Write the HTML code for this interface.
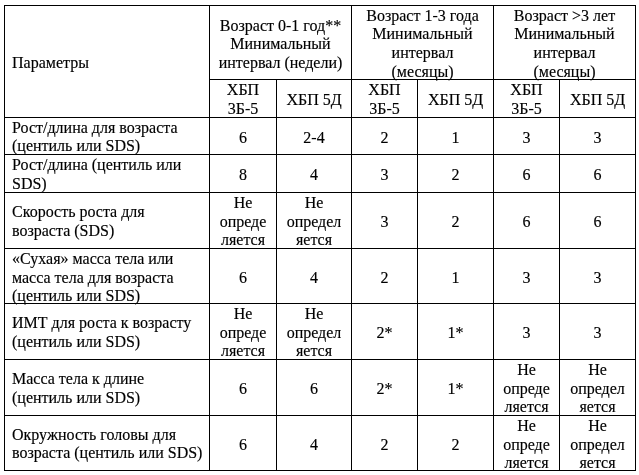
<!DOCTYPE html>
<html lang="ru"><head><meta charset="utf-8"><title>Таблица</title>
<style>
html,body{margin:0;padding:0;background:#fff;}
body{width:639px;height:475px;position:relative;overflow:hidden;font-family:"Liberation Serif","Times New Roman",serif;font-size:16px;color:#000;}
.c{position:absolute;box-sizing:border-box;border:1px solid #000;display:flex;align-items:center;justify-content:center;text-align:center;padding:0 7px;white-space:nowrap;line-height:18.4px;-webkit-text-stroke:0.15px #000;}
.c.l{justify-content:flex-start;text-align:left;}
.c span{position:relative;}
.c i{font-style:normal;position:relative;top:1px;}
</style></head><body>
<div class="c l" style="left:4px;top:5px;width:206px;height:113px;"><span style="top:2px">Параметры</span></div>
<div class="c " style="left:209px;top:5px;width:143px;height:75px;"><span style="top:2px">Возраст 0-1 год**<br>Минимальный<br>интервал (недели)</span></div>
<div class="c " style="left:351px;top:5px;width:143px;height:75px;"><span style="top:1px">Возраст 1-3 года<br>Минимальный<br>интервал<br><i>(месяцы)</i></span></div>
<div class="c " style="left:493px;top:5px;width:143px;height:75px;"><span style="top:1px">Возраст &gt;3 лет<br>Минимальный<br>интервал<br><i>(месяцы)</i></span></div>
<div class="c " style="left:209px;top:79px;width:68px;height:39px;"><span style="top:1px">ХБП<br>3Б-5</span></div>
<div class="c " style="left:276px;top:79px;width:76px;height:39px;"><span style="top:2px">ХБП 5Д</span></div>
<div class="c " style="left:351px;top:79px;width:67px;height:39px;"><span style="top:1px">ХБП<br>3Б-5</span></div>
<div class="c " style="left:417px;top:79px;width:77px;height:39px;"><span style="top:2px">ХБП 5Д</span></div>
<div class="c " style="left:493px;top:79px;width:67px;height:39px;"><span style="top:1px">ХБП<br>3Б-5</span></div>
<div class="c " style="left:559px;top:79px;width:77px;height:39px;"><span style="top:2px">ХБП 5Д</span></div>
<div class="c l" style="left:4px;top:117px;width:206px;height:38px;"><span style="top:1px">Рост/длина для возраста<br>(центиль или SDS)</span></div>
<div class="c " style="left:209px;top:117px;width:68px;height:38px;"><span style="top:2px">6</span></div>
<div class="c " style="left:276px;top:117px;width:76px;height:38px;"><span style="top:2px">2-4</span></div>
<div class="c " style="left:351px;top:117px;width:67px;height:38px;"><span style="top:2px">2</span></div>
<div class="c " style="left:417px;top:117px;width:77px;height:38px;"><span style="top:2px">1</span></div>
<div class="c " style="left:493px;top:117px;width:67px;height:38px;"><span style="top:2px">3</span></div>
<div class="c " style="left:559px;top:117px;width:77px;height:38px;"><span style="top:2px">3</span></div>
<div class="c l" style="left:4px;top:154px;width:206px;height:39px;"><span style="top:1px">Рост/длина (центиль или<br>SDS)</span></div>
<div class="c " style="left:209px;top:154px;width:68px;height:39px;"><span style="top:2px">8</span></div>
<div class="c " style="left:276px;top:154px;width:76px;height:39px;"><span style="top:2px">4</span></div>
<div class="c " style="left:351px;top:154px;width:67px;height:39px;"><span style="top:2px">3</span></div>
<div class="c " style="left:417px;top:154px;width:77px;height:39px;"><span style="top:2px">2</span></div>
<div class="c " style="left:493px;top:154px;width:67px;height:39px;"><span style="top:2px">6</span></div>
<div class="c " style="left:559px;top:154px;width:77px;height:39px;"><span style="top:2px">6</span></div>
<div class="c l" style="left:4px;top:192px;width:206px;height:57px;"><span style="top:1px">Скорость роста для<br>возраста (SDS)</span></div>
<div class="c " style="left:209px;top:192px;width:68px;height:57px;"><span style="top:1px">Не<br><i>опреде</i><br>ляется</span></div>
<div class="c " style="left:276px;top:192px;width:76px;height:57px;"><span style="top:1px">Не<br><i>определ</i><br>яется</span></div>
<div class="c " style="left:351px;top:192px;width:67px;height:57px;"><span style="top:2px">3</span></div>
<div class="c " style="left:417px;top:192px;width:77px;height:57px;"><span style="top:2px">2</span></div>
<div class="c " style="left:493px;top:192px;width:67px;height:57px;"><span style="top:2px">6</span></div>
<div class="c " style="left:559px;top:192px;width:77px;height:57px;"><span style="top:2px">6</span></div>
<div class="c l" style="left:4px;top:248px;width:206px;height:56px;"><span style="top:2px">«Сухая» масса тела или<br>масса тела для возраста<br>(центиль или SDS)</span></div>
<div class="c " style="left:209px;top:248px;width:68px;height:56px;"><span style="top:2px">6</span></div>
<div class="c " style="left:276px;top:248px;width:76px;height:56px;"><span style="top:2px">4</span></div>
<div class="c " style="left:351px;top:248px;width:67px;height:56px;"><span style="top:2px">2</span></div>
<div class="c " style="left:417px;top:248px;width:77px;height:56px;"><span style="top:2px">1</span></div>
<div class="c " style="left:493px;top:248px;width:67px;height:56px;"><span style="top:2px">3</span></div>
<div class="c " style="left:559px;top:248px;width:77px;height:56px;"><span style="top:2px">3</span></div>
<div class="c l" style="left:4px;top:303px;width:206px;height:57px;"><span style="top:1px">ИМТ для роста к возрасту<br>(центиль или SDS)</span></div>
<div class="c " style="left:209px;top:303px;width:68px;height:57px;"><span style="top:1px">Не<br><i>опреде</i><br>ляется</span></div>
<div class="c " style="left:276px;top:303px;width:76px;height:57px;"><span style="top:1px">Не<br><i>определ</i><br>яется</span></div>
<div class="c " style="left:351px;top:303px;width:67px;height:57px;"><span style="top:2px">2*</span></div>
<div class="c " style="left:417px;top:303px;width:77px;height:57px;"><span style="top:2px">1*</span></div>
<div class="c " style="left:493px;top:303px;width:67px;height:57px;"><span style="top:2px">3</span></div>
<div class="c " style="left:559px;top:303px;width:77px;height:57px;"><span style="top:2px">3</span></div>
<div class="c l" style="left:4px;top:359px;width:206px;height:57px;"><span style="top:1px">Масса тела к длине<br>(центиль или SDS)</span></div>
<div class="c " style="left:209px;top:359px;width:68px;height:57px;"><span style="top:2px">6</span></div>
<div class="c " style="left:276px;top:359px;width:76px;height:57px;"><span style="top:2px">6</span></div>
<div class="c " style="left:351px;top:359px;width:67px;height:57px;"><span style="top:2px">2*</span></div>
<div class="c " style="left:417px;top:359px;width:77px;height:57px;"><span style="top:2px">1*</span></div>
<div class="c " style="left:493px;top:359px;width:67px;height:57px;"><span style="top:1px">Не<br><i>опреде</i><br>ляется</span></div>
<div class="c " style="left:559px;top:359px;width:77px;height:57px;"><span style="top:1px">Не<br><i>определ</i><br>яется</span></div>
<div class="c l" style="left:4px;top:415px;width:206px;height:56px;"><span style="top:1px">Окружность головы для<br>возраста (центиль или SDS)</span></div>
<div class="c " style="left:209px;top:415px;width:68px;height:56px;"><span style="top:2px">6</span></div>
<div class="c " style="left:276px;top:415px;width:76px;height:56px;"><span style="top:2px">4</span></div>
<div class="c " style="left:351px;top:415px;width:67px;height:56px;"><span style="top:2px">2</span></div>
<div class="c " style="left:417px;top:415px;width:77px;height:56px;"><span style="top:2px">2</span></div>
<div class="c " style="left:493px;top:415px;width:67px;height:56px;"><span style="top:2px">Не<br>опреде<br>ляется</span></div>
<div class="c " style="left:559px;top:415px;width:77px;height:56px;"><span style="top:2px">Не<br>определ<br>яется</span></div>
</body></html>
